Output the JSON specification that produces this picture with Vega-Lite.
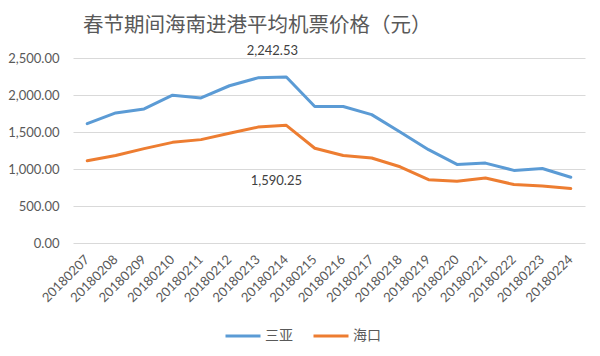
{
  "$schema": "https://vega.github.io/schema/vega-lite/v6.json",
  "width": 512,
  "height": 185,
  "autosize": "none",
  "padding": {"left": 73, "top": 58, "right": 15, "bottom": 113},
  "background": "white",
  "title": {
    "text": "春节期间海南进港平均机票价格（元）",
    "font": "Noto Sans CJK SC",
    "fontSize": 20.5,
    "fontWeight": "normal",
    "color": "#595959",
    "anchor": "start",
    "frame": "group",
    "dx": 10,
    "offset": 9
  },
  "data": {
    "values": [
      {"date": "20180207", "city": "三亚", "price": 1612},
      {"date": "20180208", "city": "三亚", "price": 1758},
      {"date": "20180209", "city": "三亚", "price": 1812},
      {"date": "20180210", "city": "三亚", "price": 1998},
      {"date": "20180211", "city": "三亚", "price": 1960},
      {"date": "20180212", "city": "三亚", "price": 2125},
      {"date": "20180213", "city": "三亚", "price": 2232},
      {"date": "20180214", "city": "三亚", "price": 2242.53},
      {"date": "20180215", "city": "三亚", "price": 1845},
      {"date": "20180216", "city": "三亚", "price": 1845},
      {"date": "20180217", "city": "三亚", "price": 1735},
      {"date": "20180218", "city": "三亚", "price": 1500},
      {"date": "20180219", "city": "三亚", "price": 1261},
      {"date": "20180220", "city": "三亚", "price": 1062},
      {"date": "20180221", "city": "三亚", "price": 1080},
      {"date": "20180222", "city": "三亚", "price": 981},
      {"date": "20180223", "city": "三亚", "price": 1006},
      {"date": "20180224", "city": "三亚", "price": 889},
      {"date": "20180207", "city": "海口", "price": 1111},
      {"date": "20180208", "city": "海口", "price": 1182},
      {"date": "20180209", "city": "海口", "price": 1275},
      {"date": "20180210", "city": "海口", "price": 1360},
      {"date": "20180211", "city": "海口", "price": 1397},
      {"date": "20180212", "city": "海口", "price": 1482},
      {"date": "20180213", "city": "海口", "price": 1566},
      {"date": "20180214", "city": "海口", "price": 1590.25},
      {"date": "20180215", "city": "海口", "price": 1280},
      {"date": "20180216", "city": "海口", "price": 1182},
      {"date": "20180217", "city": "海口", "price": 1148},
      {"date": "20180218", "city": "海口", "price": 1030},
      {"date": "20180219", "city": "海口", "price": 855},
      {"date": "20180220", "city": "海口", "price": 836},
      {"date": "20180221", "city": "海口", "price": 878},
      {"date": "20180222", "city": "海口", "price": 790},
      {"date": "20180223", "city": "海口", "price": 771},
      {"date": "20180224", "city": "海口", "price": 735}
    ]
  },
  "config": {
    "view": {"stroke": null},
    "axis": {"labelFont": "Lato", "labelColor": "#595959"}
  },
  "encoding": {
    "x": {
      "field": "date",
      "type": "nominal",
      "sort": null,
      "scale": {"type": "band", "paddingInner": 0, "paddingOuter": 0},
      "axis": {
        "title": null,
        "labelAngle": -45,
        "labelAlign": "right",
        "labelBaseline": "middle",
        "labelFontSize": 13,
        "labelPadding": 14,
        "ticks": false,
        "domain": false,
        "grid": false
      }
    },
    "y": {
      "field": "price",
      "type": "quantitative",
      "scale": {"domain": [0, 2500], "nice": false},
      "axis": {
        "title": null,
        "values": [0, 500, 1000, 1500, 2000, 2500],
        "format": ",.2f",
        "labelFontSize": 13,
        "labelPadding": 14,
        "ticks": false,
        "domain": false,
        "gridColor": "#D9D9D9",
        "gridWidth": 1
      }
    }
  },
  "layer": [
    {
      "mark": {"type": "line", "strokeWidth": 3, "strokeCap": "round", "strokeJoin": "round"},
      "encoding": {
        "color": {
          "field": "city",
          "type": "nominal",
          "scale": {"domain": ["三亚", "海口"], "range": ["#5B9BD5", "#ED7D31"]},
          "legend": {
            "title": null,
            "orient": "none",
            "direction": "horizontal",
            "legendX": 151,
            "legendY": 259,
            "symbolType": "stroke",
            "symbolSize": 1225,
            "symbolStrokeWidth": 3,
            "labelFont": "Noto Sans CJK SC",
            "labelFontSize": 14,
            "labelColor": "#595959",
            "labelOffset": 3,
            "columnPadding": 14
          }
        }
      }
    },
    {
      "transform": [{"filter": "datum.date == '20180214' && datum.city == '三亚'"}],
      "mark": {"type": "text", "font": "Lato", "fontSize": 13, "color": "#404040", "dx": -14, "dy": -26},
      "encoding": {"text": {"field": "price", "type": "quantitative", "format": ",.2f"}}
    },
    {
      "transform": [{"filter": "datum.date == '20180214' && datum.city == '海口'"}],
      "mark": {"type": "text", "font": "Lato", "fontSize": 13, "color": "#404040", "dx": -10, "dy": 56},
      "encoding": {"text": {"field": "price", "type": "quantitative", "format": ",.2f"}}
    }
  ]
}
